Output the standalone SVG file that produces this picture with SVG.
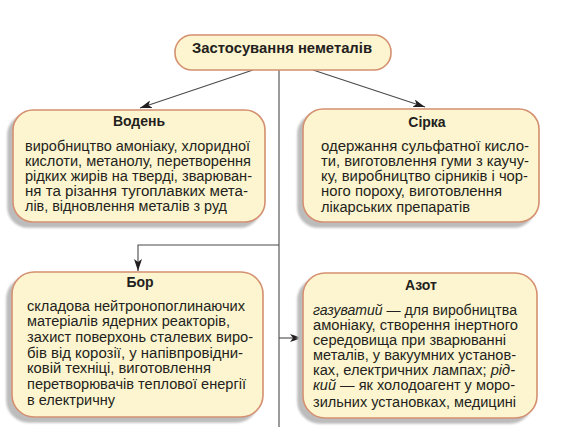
<svg xmlns="http://www.w3.org/2000/svg" width="567" height="427" viewBox="0 0 567 427">
<style>
.box{fill:#fdf5cf;stroke:#d4906f;stroke-width:1.6}
.sh{filter:url(#ds)}
.t{font-family:"Liberation Sans",Arial,sans-serif;font-size:14px;fill:#231f20}
.h{font-family:"Liberation Sans",Arial,sans-serif;font-size:14px;font-weight:bold;fill:#231f20;text-anchor:middle}
.c{fill:none;stroke:#4a4a4a;stroke-width:1.1}
</style>
<defs>
<filter id="ds" x="-10%" y="-10%" width="120%" height="125%">
<feDropShadow dx="-5" dy="5" stdDeviation="1.2" flood-color="#bcbcbc" flood-opacity="1"/>
</filter>
<marker id="ah" viewBox="0 0 12 8" refX="12" refY="4" markerWidth="12" markerHeight="8" markerUnits="userSpaceOnUse" orient="auto">
<path d="M0,0 L12,4 L0,8 L3,4 z" fill="#231f20"/>
</marker>
</defs>
<rect width="567" height="427" fill="#ffffff"/>
<g id="connectors">
<line class="c" x1="253" y1="70" x2="140" y2="108" marker-end="url(#ah)"/>
<line class="c" x1="313" y1="70" x2="425" y2="107" marker-end="url(#ah)"/>
<line class="c" x1="279" y1="70" x2="279" y2="427"/>
<polyline class="c" points="279,245 138,245 138,271" marker-end="url(#ah)"/>
<line class="c" x1="279" y1="338" x2="302" y2="338" marker-end="url(#ah)"/>
</g>
<g id="root">
<rect class="box" x="175" y="35" width="216" height="35" rx="17"/>
<text class="h" x="282" y="53" textLength="180" lengthAdjust="spacingAndGlyphs">Застосування неметалів</text>
</g>
<g id="voden">
<rect class="box sh" x="13" y="110" width="252" height="112" rx="20"/>
<text class="h" x="139" y="126">Водень</text>
<text class="t" x="25" y="151" textLength="225" lengthAdjust="spacingAndGlyphs">виробництво амоніаку, хлоридної</text>
<text class="t" x="25" y="166" textLength="226" lengthAdjust="spacingAndGlyphs">кислоти, метанолу, перетворення</text>
<text class="t" x="25" y="181" textLength="227" lengthAdjust="spacingAndGlyphs">рідких жирів на тверді, зварюван-</text>
<text class="t" x="25" y="195.5" textLength="223" lengthAdjust="spacingAndGlyphs">ня та різання тугоплавких мета-</text>
<text class="t" x="25" y="210.5" textLength="202" lengthAdjust="spacingAndGlyphs">лів, відновлення металів з руд</text>
</g>
<g id="sirka">
<rect class="box sh" x="303" y="109" width="236" height="113" rx="20"/>
<text class="h" x="427" y="127">Сірка</text>
<text class="t" x="321" y="151" textLength="208" lengthAdjust="spacingAndGlyphs">одержання сульфатної кисло-</text>
<text class="t" x="321" y="166" textLength="208" lengthAdjust="spacingAndGlyphs">ти, виготовлення гуми з каучу-</text>
<text class="t" x="321" y="181" textLength="207" lengthAdjust="spacingAndGlyphs">ку, виробництво сірників і чор-</text>
<text class="t" x="321" y="196" textLength="181" lengthAdjust="spacingAndGlyphs">ного пороху, виготовлення</text>
<text class="t" x="321" y="212" textLength="149" lengthAdjust="spacingAndGlyphs">лікарських препаратів</text>
</g>
<g id="bor">
<rect class="box sh" x="12" y="272" width="251" height="145" rx="22"/>
<text class="h" x="140" y="287">Бор</text>
<text class="t" x="27" y="310.5" textLength="218" lengthAdjust="spacingAndGlyphs">складова нейтронопоглинаючих</text>
<text class="t" x="27" y="326" textLength="203" lengthAdjust="spacingAndGlyphs">матеріалів ядерних реакторів,</text>
<text class="t" x="27" y="342" textLength="226" lengthAdjust="spacingAndGlyphs">захист поверхонь сталевих виро-</text>
<text class="t" x="27" y="357.5" textLength="216" lengthAdjust="spacingAndGlyphs">бів від корозії, у напівпровідни-</text>
<text class="t" x="27" y="373" textLength="184" lengthAdjust="spacingAndGlyphs">ковій техніці, виготовлення</text>
<text class="t" x="27" y="388.5" textLength="219" lengthAdjust="spacingAndGlyphs">перетворювачів теплової енергії</text>
<text class="t" x="27" y="404.5" textLength="88" lengthAdjust="spacingAndGlyphs">в електричну</text>
</g>
<g id="azot">
<rect class="box sh" x="303" y="273" width="234" height="145" rx="22"/>
<text class="h" x="421" y="290">Азот</text>
<text class="t" x="313" y="314.5" textLength="204" lengthAdjust="spacingAndGlyphs"><tspan font-style="italic">газуватий</tspan> — для виробництва</text>
<text class="t" x="313" y="329.5" textLength="205" lengthAdjust="spacingAndGlyphs">амоніаку, створення інертного</text>
<text class="t" x="313" y="344.5" textLength="193" lengthAdjust="spacingAndGlyphs">середовища при зварюванні</text>
<text class="t" x="313" y="359.5" textLength="203" lengthAdjust="spacingAndGlyphs">металів, у вакуумних установ-</text>
<text class="t" x="313" y="374.5" textLength="202" lengthAdjust="spacingAndGlyphs">ках, електричних лампах; <tspan font-style="italic">рід-</tspan></text>
<text class="t" x="313" y="390" textLength="202" lengthAdjust="spacingAndGlyphs"><tspan font-style="italic">кий</tspan> — як холодоагент у моро-</text>
<text class="t" x="313" y="407" textLength="203" lengthAdjust="spacingAndGlyphs">зильних установках, медицині</text>
</g>
</svg>
